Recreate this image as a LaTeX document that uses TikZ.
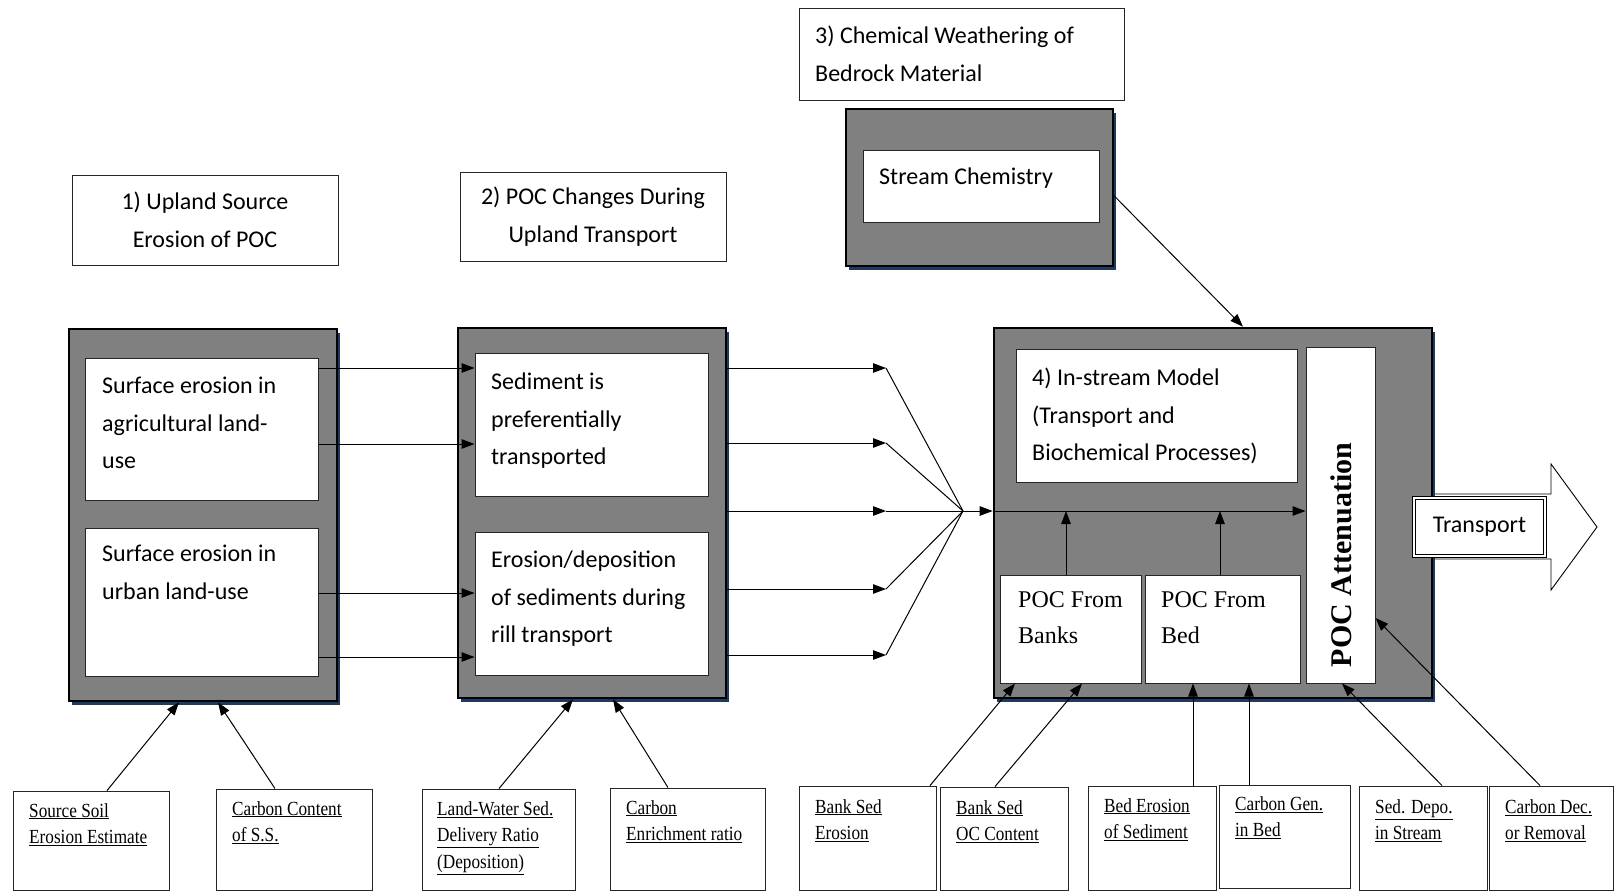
\documentclass[tikz,border=0pt]{standalone}
\usepackage{fontspec}
\setmainfont{Liberation Serif}
\newfontfamily\calfont{Carlito}
\newfontfamily\condserif[FakeStretch=0.86]{Liberation Serif}
\usetikzlibrary{arrows.meta,shadows,calc}
\definecolor{boxgray}{HTML}{808080}
\definecolor{shadownavy}{HTML}{1F3A60}
\newcommand\bx[6]{\node[#2, minimum width={#5-#3}, minimum height={#6-#4}] (#1) at ({(#3+#5)/2},{(#4+#6)/2}) {};}
\tikzset{
  lbl/.style={draw=black!85, line width=0.9pt, fill=white, inner sep=0pt},
  graybox/.style={draw=black, line width=2.6pt, fill=boxgray, inner sep=0pt,
    drop shadow={shadow xshift=2.5pt, shadow yshift=-3.5pt, fill=shadownavy, opacity=1}},
  wbox/.style={draw=black!85, line width=1pt, fill=white, inner sep=0pt},
  ctxt/.style={font=\calfont\fontsize{24}{37.5}\selectfont, inner sep=0pt},
  btxt/.style={font=\calfont\fontsize{24}{37.5}\selectfont, anchor=north west, inner sep=0pt, align=left},
  ttxt/.style={font=\fontsize{24}{36}\selectfont, anchor=north west, inner sep=0pt, align=left},
  stxt/.style={font=\condserif\fontsize{20}{26.5}\selectfont, anchor=north west, inner sep=0pt, align=left},
  arr/.style={line width=1pt, -{Triangle[length=13pt,width=9.5pt]}},
  ln/.style={line width=1pt},
}
\begin{document}
\begin{tikzpicture}[x=1pt,y=-1pt]
\useasboundingbox (0,0) rectangle (1615,892);
% header labels
\node[lbl, ctxt, align=center, minimum width=266, minimum height=90] (L1) at (205,220) {1) Upland Source\\Erosion of POC};
\node[lbl, ctxt, align=center, minimum width=266, minimum height=89] (L2) at (593,216.5) {2) POC Changes During\\Upland Transport};
\bx{L3}{lbl}{799}{8}{1124}{100}
\node[btxt] (t3) at (815,26) {3) Chemical Weathering of\\Bedrock Material};
% stream chemistry
\bx{SCo}{graybox}{846}{109}{1113}{266}
\bx{SC}{wbox}{863}{150}{1099}{222}
\node[btxt] (tSC) at (879,168) {Stream Chemistry};
% box A
\bx{A}{graybox}{69}{329}{337}{701}
\bx{A1}{wbox}{85}{358}{318}{500}
\bx{A2}{wbox}{85}{528}{318}{676}
\node[btxt] (tA1) at (102,377) {Surface erosion in\\agricultural land-\\use};
\node[btxt] (tA2) at (102,545) {Surface erosion in\\urban land-use};
% box B
\bx{B}{graybox}{458}{328}{726}{698}
\bx{B1}{wbox}{475}{353}{708}{496}
\bx{B2}{wbox}{475}{532}{708}{675}
\node[btxt] (tB1) at (491,373) {Sediment is\\preferentially\\transported};
\node[btxt] (tB2) at (491,551) {Erosion/deposition\\of sediments during\\rill transport};
% transport arrow (behind box 4)
\draw[line width=0.9pt, fill=white] (1432,494) -- (1551,494) -- (1551,464) -- (1597,527) -- (1551,590) -- (1551,559) -- (1432,559);
% box 4
\bx{C}{graybox}{994}{328}{1432}{698}
\bx{IS}{wbox}{1016}{349}{1297}{482}
\node[btxt] (t4) at (1032,368) {4) In-stream Model\\(Transport and\\Biochemical Processes)};
\bx{att}{wbox}{1306}{347}{1375}{683}
\node[font=\bfseries\fontsize{30}{30}\selectfont, rotate=90, inner sep=0pt] (tatt) at (1341,555) {POC Attenuation};
\bx{banks}{wbox}{1000}{575}{1141}{683}
\bx{bed}{wbox}{1145}{575}{1300}{683}
\node[ttxt] (tbanks) at (1018,591) {POC From\\Banks};
\node[ttxt] (tbed) at (1161,591) {POC From\\Bed};
% transport label
\node[draw=black, line width=0.8pt, double=white, double distance=2.4pt, fill=white, ctxt, minimum width=131, minimum height=58] (tr) at (1479.5,527) {Transport};
% bottom boxes
\bx{s1}{lbl}{13}{791}{169}{890}
\bx{s2}{lbl}{216}{789}{372}{890}
\bx{s3}{lbl}{422}{789}{575}{890}
\bx{s4}{lbl}{610}{788}{765}{890}
\bx{s5}{lbl}{799}{786}{936}{890}
\bx{s6}{lbl}{940}{787}{1068}{890}
\bx{s7}{lbl}{1088}{786}{1216}{890}
\bx{s8}{lbl}{1219}{785}{1350}{888}
\bx{s9}{lbl}{1359}{786}{1487}{890}
\bx{s10}{lbl}{1489}{786}{1613}{890}
\node[stxt] (ts1) at (29,803) {\underline{Source Soil}\\\underline{Erosion Estimate}};
\node[stxt] (ts2) at (232,801) {\underline{Carbon Content}\\\underline{of S.S.}};
\node[stxt] (ts3) at (437,801) {\underline{Land-Water Sed.}\\\underline{Delivery Ratio}\\\underline{(Deposition)}};
\node[stxt] (ts4) at (626,800) {\underline{Carbon}\\\underline{Enrichment ratio}};
\node[stxt] (ts5) at (815,799) {\underline{Bank Sed}\\\underline{Erosion}};
\node[stxt] (ts6) at (956,800) {\underline{Bank Sed}\\\underline{OC Content}};
\node[stxt] (ts7) at (1104,798) {\underline{Bed Erosion}\\\underline{of Sediment}};
\node[stxt] (ts8) at (1235,796) {\underline{Carbon Gen.}\\\underline{in Bed}};
\node[stxt] (ts9) at (1375,799) {\underline{Sed. Depo.}\\\underline{in Stream}};
\node[stxt] (ts10) at (1505,799) {\underline{Carbon Dec.}\\\underline{or Removal}};
% coordinates
\coordinate (cv) at (963,511);
\coordinate (h1) at (886,368);
\coordinate (h2) at (886,443);
\coordinate (h3) at (886,511);
\coordinate (h4) at (886,589);
\coordinate (h5) at (886,655);
% A -> B
\draw[arr] (A1.east |- 0,368) -- (B1.west |- 0,368);
\draw[arr] (A1.east |- 0,444) -- (B1.west |- 0,444);
\draw[arr] (A2.east |- 0,593) -- (B2.west |- 0,593);
\draw[arr] (A2.east |- 0,657) -- (B2.west |- 0,657);
% B -> convergence
\foreach \h in {h1,h2,h3,h4,h5}{
  \draw[arr] (B.east |- \h) -- (\h);
  \draw[ln] (\h) -- (cv);
}
\draw[arr] (cv) -- (C.west |- cv);
\draw[arr] (C.west |- cv) -- (att.west |- cv);
% up arrows inside 4
\draw[arr] (banks.north -| 1066,0) -- (1066,0 |- cv);
\draw[arr] (bed.north -| 1220,0) -- (1220,0 |- cv);
% stream chemistry arrow
\draw[arr] (SCo.east |- 0,196) -- (C.north -| 1243,0);
% bottom arrows
\draw[arr] (s1.north -| 107,0) -- (A.south -| 179,0);
\draw[arr] (s2.north -| 275,0) -- (A.south -| 218,0);
\draw[arr] (s3.north -| 499,0) -- (B.south -| 573,0);
\draw[arr] (s4.north -| 668,0) -- (B.south -| 613,0);
\draw[arr] (s5.north -| 930,0) -- (banks.south -| 1015,0);
\draw[arr] (s6.north -| 995,0) -- (banks.south -| 1082,0);
\draw[arr] (s7.north -| 1193,0) -- (bed.south -| 1193,0);
\draw[arr] (s8.north -| 1249,0) -- (bed.south -| 1249,0);
\draw[arr] (s9.north -| 1442,0) -- (att.south -| 1342,0);
\draw[arr] (s10.north -| 1540,0) -- (att.east |- 0,618);
\end{tikzpicture}
\end{document}
